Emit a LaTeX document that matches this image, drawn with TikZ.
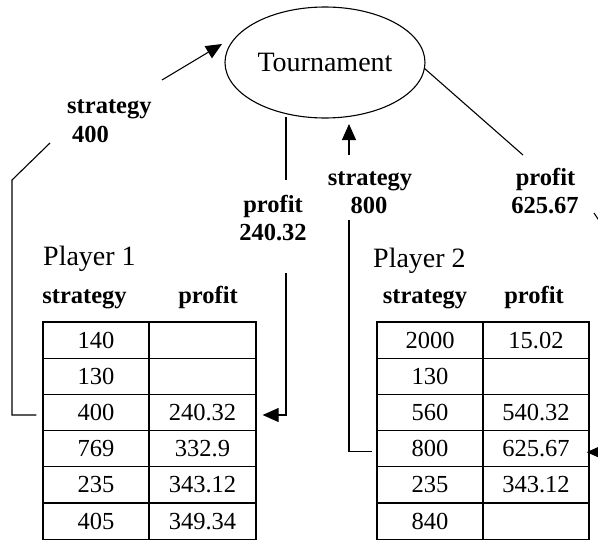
\documentclass[tikz,border=0pt]{standalone}
\usepackage{fontspec}
\setmainfont{Liberation Serif}
\usetikzlibrary{shapes.geometric,arrows.meta}
\begin{document}
\begin{tikzpicture}[x=1pt,y=-1pt,
  conn/.style={line width=1.1pt},
  arr/.style={conn,-{Triangle[length=16pt,width=14pt]}},
  cell/.style={draw,line width=1.3pt,inner sep=0pt,minimum height=36.2pt,
    font=\fontsize{24.5}{28}\selectfont},
  lab/.style={inner sep=0pt,anchor=base,font=\bfseries\fontsize{24.5}{28}\selectfont},
  labw/.style={lab,anchor=base west},
  title/.style={inner sep=0pt,anchor=base west,font=\fontsize{28}{32}\selectfont}]

\useasboundingbox (0,0) rectangle (598,541);
\clip (0,0) rectangle (598,541);

% central tournament node
\node[ellipse,draw,line width=1.1pt,minimum width=200pt,minimum height=111pt,
      inner sep=0pt,font=\fontsize{28}{32}\selectfont] (T) at (325,62.5) {Tournament};

% player titles and column heads
\node[title] (pl1) at (43,265) {Player 1};
\node[title] (pl2) at (373,267) {Player 2};
\node[lab] (h1s) at (84.5,303) {strategy};
\node[lab] (h1p) at (208,303) {profit};
\node[lab] (h2s) at (425,303) {strategy};
\node[lab] (h2p) at (534,303) {profit};

% table of player 1
\foreach \s/\p [count=\i] in {140/{},130/{},400/240.32,769/332.9,235/343.12,405/349.34}{
  \node[cell,minimum width=106pt] (a\i) at (96,{322+36.2*(\i-0.5)}) {\s};
  \node[cell,minimum width=107pt] (p\i) at (202.5,{322+36.2*(\i-0.5)}) {\p};
}
% table of player 2
\foreach \s/\p [count=\i] in {2000/15.02,130/{},560/540.32,800/625.67,235/343.12,840/{}}{
  \node[cell,minimum width=106pt] (b\i) at (430,{322+36.2*(\i-0.5)}) {\s};
  \node[cell,minimum width=106pt] (q\i) at (536,{322+36.2*(\i-0.5)}) {\p};
}

% connector labels
\node[labw] (s400a) at (67,113) {strategy};
\node[labw] (s400b) at (72,142) {400};
\node[lab] (p240a) at (273,212) {profit};
\node[lab] (p240b) at (273,240) {240.32};
\node[lab] (s800a) at (370,185) {strategy};
\node[lab] (s800b) at (369,213) {800};
\node[lab] (p625a) at (545.5,185) {profit};
\node[lab] (p625b) at (545,213) {625.67};

% player 1 sends strategy 400
\coordinate (c1) at (12,180);
\coordinate (c2) at (50,143);
\coordinate (c3) at (162,80);
\coordinate (c4) at (222,44);
\draw[conn] ([shift={(-6,2.5)}]a3.west) -| (c1) -- (c2);
\draw[arr] (c3) -- (c4);

% tournament returns profit 240.32
\coordinate (d1) at (286,117);
\coordinate (d2) at (286,180);
\coordinate (d3) at (286,273);
\draw[conn] (d1) -- (d2);
\draw[arr] (d3) |- ([shift={(6,2.5)}]p3.east);

% player 2 sends strategy 800
\coordinate (e1) at (349,155);
\coordinate (e2) at (349,124);
\coordinate (e3) at (349,220);
\draw[arr] (e1) -- (e2);
\draw[conn] ([shift={(-4,3)}]b4.west) -| (e3);

% tournament returns profit 625.67
\coordinate (f1) at (424,68);
\coordinate (f2) at (523,155);
\coordinate (f3) at (594,213);
\coordinate (f4) at (600,222);
\coordinate (f5) at (625,452);
\draw[conn] (f1) -- (f2);
\draw[conn] (f3) -- (f4);
\draw[arr] (f5) -- ([shift={(-3,3.5)}]q4.east);
\end{tikzpicture}
\end{document}
